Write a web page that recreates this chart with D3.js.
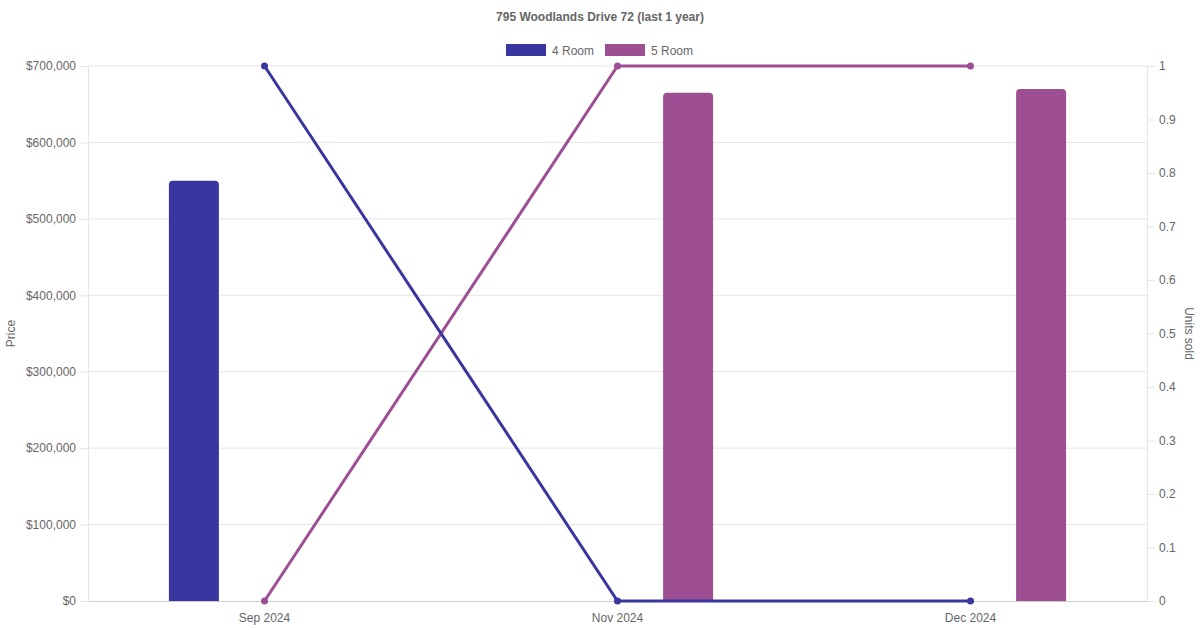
<!DOCTYPE html>
<html><head><meta charset="utf-8">
<script src="https://cdn.jsdelivr.net/npm/d3@7"></script>
<style>body{margin:0;background:#fff;font-family:"Liberation Sans",Arial,sans-serif}</style>
</head><body><svg id="c" width="1200" height="630"></svg>
<script>
const categories = ["Sep 2024", "Nov 2024", "Dec 2024"];
const seriesNames = ["4 Room", "5 Room"];
const priceValues = [[550000, null, null], [null, 665000, 670000]];
const unitsValues = [[1, 0, 0], [0, 1, 1]];
const priceTicks = [0,100000,200000,300000,400000,500000,600000,700000];
const unitTicks = [0,0.1,0.2,0.3,0.4,0.5,0.6,0.7,0.8,0.9,1];
const colors = ["#3a36a0", "#9e4f93"];

const svg = d3.select("#c");
const L = 88, R = 1147, T = 66, B = 601;
const x = d3.scaleBand().domain(categories).range([L, R]);
const xs = d3.scaleBand().domain(seriesNames).range([0, x.bandwidth()*0.8]);
const yP = d3.scaleLinear().domain([0, 700000]).range([B, T]);
const yU = d3.scaleLinear().domain([0, 1]).range([B, T]);
const txt = "#666", grid = "#e5e5e5";

svg.append("text").attr("x", 600).attr("y", 21).attr("text-anchor","middle")
  .attr("font-size", 12).attr("font-weight","bold").attr("fill", txt)
  .text("795 Woodlands Drive 72 (last 1 year)");

// legend
const lg = [{x:506},{x:605}];
seriesNames.forEach((s,i)=>{
  svg.append("rect").attr("x", lg[i].x).attr("y", 44).attr("width", 40).attr("height", 12).attr("fill", colors[i]);
  svg.append("text").attr("x", lg[i].x+46).attr("y", 54.5).attr("font-size", 12).attr("fill", txt).text(s);
});

// left axis with grid
const gl = svg.append("g").attr("transform", `translate(${L},0)`)
  .call(d3.axisLeft(yP).tickValues(priceTicks).tickSize(8).tickPadding(4)
    .tickFormat(d => "$" + d3.format(",")(d)));
gl.select(".domain").attr("stroke", grid);
gl.selectAll(".tick line").attr("stroke", grid);
gl.selectAll(".tick text").attr("fill", txt).attr("font-size", 12).attr("font-family","Liberation Sans, Arial, sans-serif");
svg.append("g").selectAll("line").data(priceTicks.filter(d=>d>0)).join("line")
  .attr("x1", L).attr("x2", R).attr("y1", d=>yP(d)).attr("y2", d=>yP(d)).attr("stroke", grid);

// right axis
const gr = svg.append("g").attr("transform", `translate(${R},0)`)
  .call(d3.axisRight(yU).tickValues(unitTicks).tickSize(8).tickPadding(4).tickFormat(d=>d3.format("")(d)));
gr.select(".domain").attr("stroke", grid);
gr.selectAll(".tick line").attr("stroke", grid);
gr.selectAll(".tick text").attr("fill", txt).attr("font-size", 12).attr("font-family","Liberation Sans, Arial, sans-serif");

// bottom axis
const gb = svg.append("g").attr("transform", `translate(0,${B})`)
  .call(d3.axisBottom(x).tickSize(0).tickPadding(12));
gb.select(".domain").attr("stroke", "#ccc");
gb.selectAll(".tick text").attr("fill", txt).attr("font-size", 12).attr("font-family","Liberation Sans, Arial, sans-serif");

// axis titles
svg.append("text").attr("transform", `translate(15,${(T+B)/2}) rotate(-90)`).attr("text-anchor","middle")
  .attr("font-size", 12).attr("fill", txt).text("Price");
svg.append("text").attr("transform", `translate(1185,${(T+B)/2}) rotate(90)`).attr("text-anchor","middle")
  .attr("font-size", 12).attr("fill", txt).text("Units sold");

// bars
const bw = 50, r = 4;
seriesNames.forEach((s,i)=>{
  categories.forEach((c,j)=>{
    const v = priceValues[i][j];
    if (v == null) return;
    const cx = x(c) + x.bandwidth()*0.1 + xs(s) + xs.bandwidth()/2;
    const x0 = cx - bw/2, x1 = cx + bw/2, y0 = yP(v), y1 = B;
    const p = `M${x0},${y1}V${y0+r}Q${x0},${y0} ${x0+r},${y0}H${x1-r}Q${x1},${y0} ${x1},${y0+r}V${y1}Z`;
    svg.append("path").attr("d", p).attr("fill", colors[i]);
  });
});

// lines (5 Room first, 4 Room on top)
[1,0].forEach(i=>{
  const pts = categories.map((c,j)=>[x(c)+x.bandwidth()/2, yU(unitsValues[i][j])]);
  svg.append("path").attr("d", d3.line()(pts)).attr("fill","none").attr("stroke", colors[i]).attr("stroke-width", 3);
  svg.append("g").selectAll("circle").data(pts).join("circle")
    .attr("cx", d=>d[0]).attr("cy", d=>d[1]).attr("r", 3.5).attr("fill", colors[i]);
});
</script></body></html>
